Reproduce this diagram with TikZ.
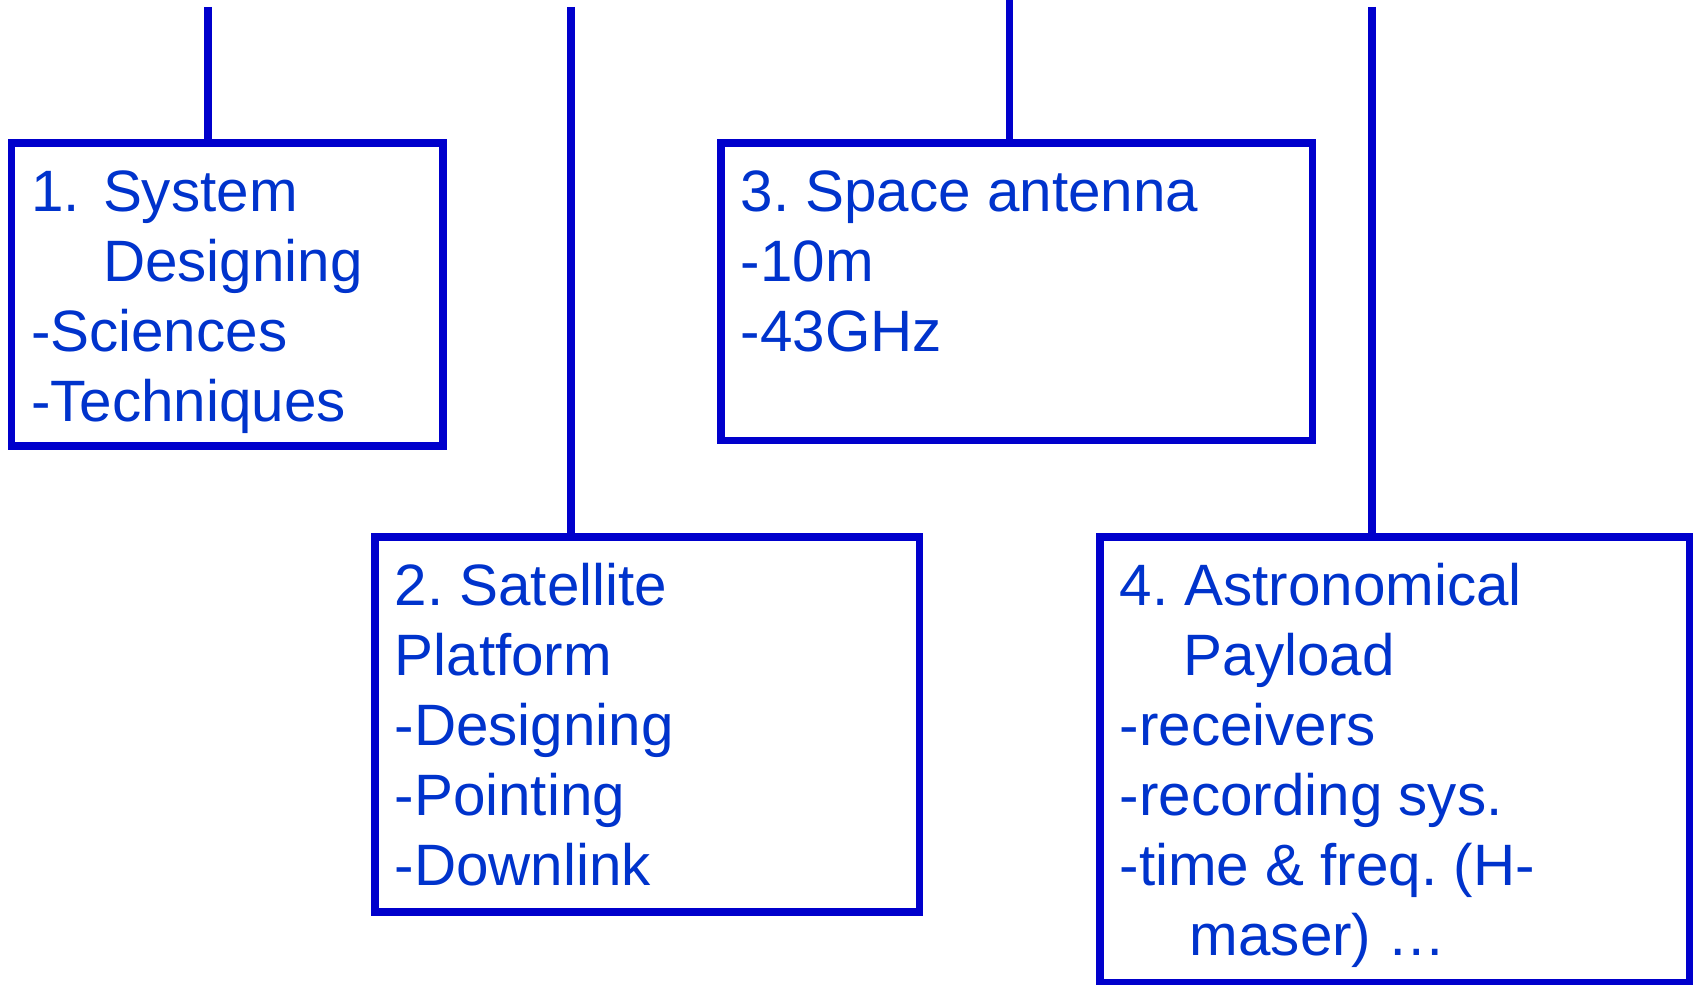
\documentclass[tikz,border=0pt]{standalone}
\usepackage{fontspec}
\setmainfont{Liberation Sans}
\usetikzlibrary{positioning}
\definecolor{linkblue}{RGB}{0,0,204}
\definecolor{itemblue}{RGB}{0,51,204}
\frenchspacing

\begin{document}
\begin{tikzpicture}[x=0.01cm, y=-0.01cm,
  panel/.style={draw=linkblue, line width=0.075cm, inner sep=0pt, outer sep=0pt, anchor=north west},
  items/.style={text=itemblue, align=left, inner sep=0pt, font=\fontsize{16.6pt}{19.9pt}\selectfont},
  link/.style={draw=linkblue, line width=0.075cm}]
  \useasboundingbox (0,0) rectangle (1693,985);
  \node[panel, minimum width=4.315cm, minimum height=3.03cm] (sys) at (11.3,143) {};
  \node[panel, minimum width=5.44cm, minimum height=3.75cm] (sat) at (375,537) {};
  \node[panel, minimum width=5.91cm, minimum height=2.975cm] (ant) at (721,143) {};
  \node[panel, minimum width=5.895cm, minimum height=4.45cm] (pay) at (1100,537) {};
  \node[items, below right=0.19cm and 0.19cm of sys.north west] (sysText)
    {\strut\makebox[0.72cm][l]{1.}System\\\hspace*{0.72cm}Designing\\-Sciences\\-Techniques};
  \node[items, below right=0.19cm and 0.19cm of sat.north west] (satText)
    {\strut 2. Satellite\\Platform\\-Designing\\-Pointing\\-Downlink};
  \node[items, below right=0.19cm and 0.19cm of ant.north west] (antText)
    {\strut 3. Space antenna\\-10m\\-43GHz};
  \node[items, below right=0.19cm and 0.19cm of pay.north west] (payText)
    {\strut 4. Astronomical\\\hspace*{0.64cm}Payload\\-receivers\\-recording sys.\\-time \& freq. (H-\\\hspace*{0.70cm}maser) …};
  \coordinate (sysTop) at (208,7);
  \coordinate (satTop) at (571,7);
  \coordinate (antTop) at (1009.5,0);
  \coordinate (payTop) at (1372,7);
  \draw[link] (sysTop) -- (sysTop |- sys.north);
  \draw[link] (satTop) -- (satTop |- sat.north);
  \draw[link] (antTop) -- (antTop |- ant.north);
  \draw[link] (payTop) -- (payTop |- pay.north);
\end{tikzpicture}
\end{document}
